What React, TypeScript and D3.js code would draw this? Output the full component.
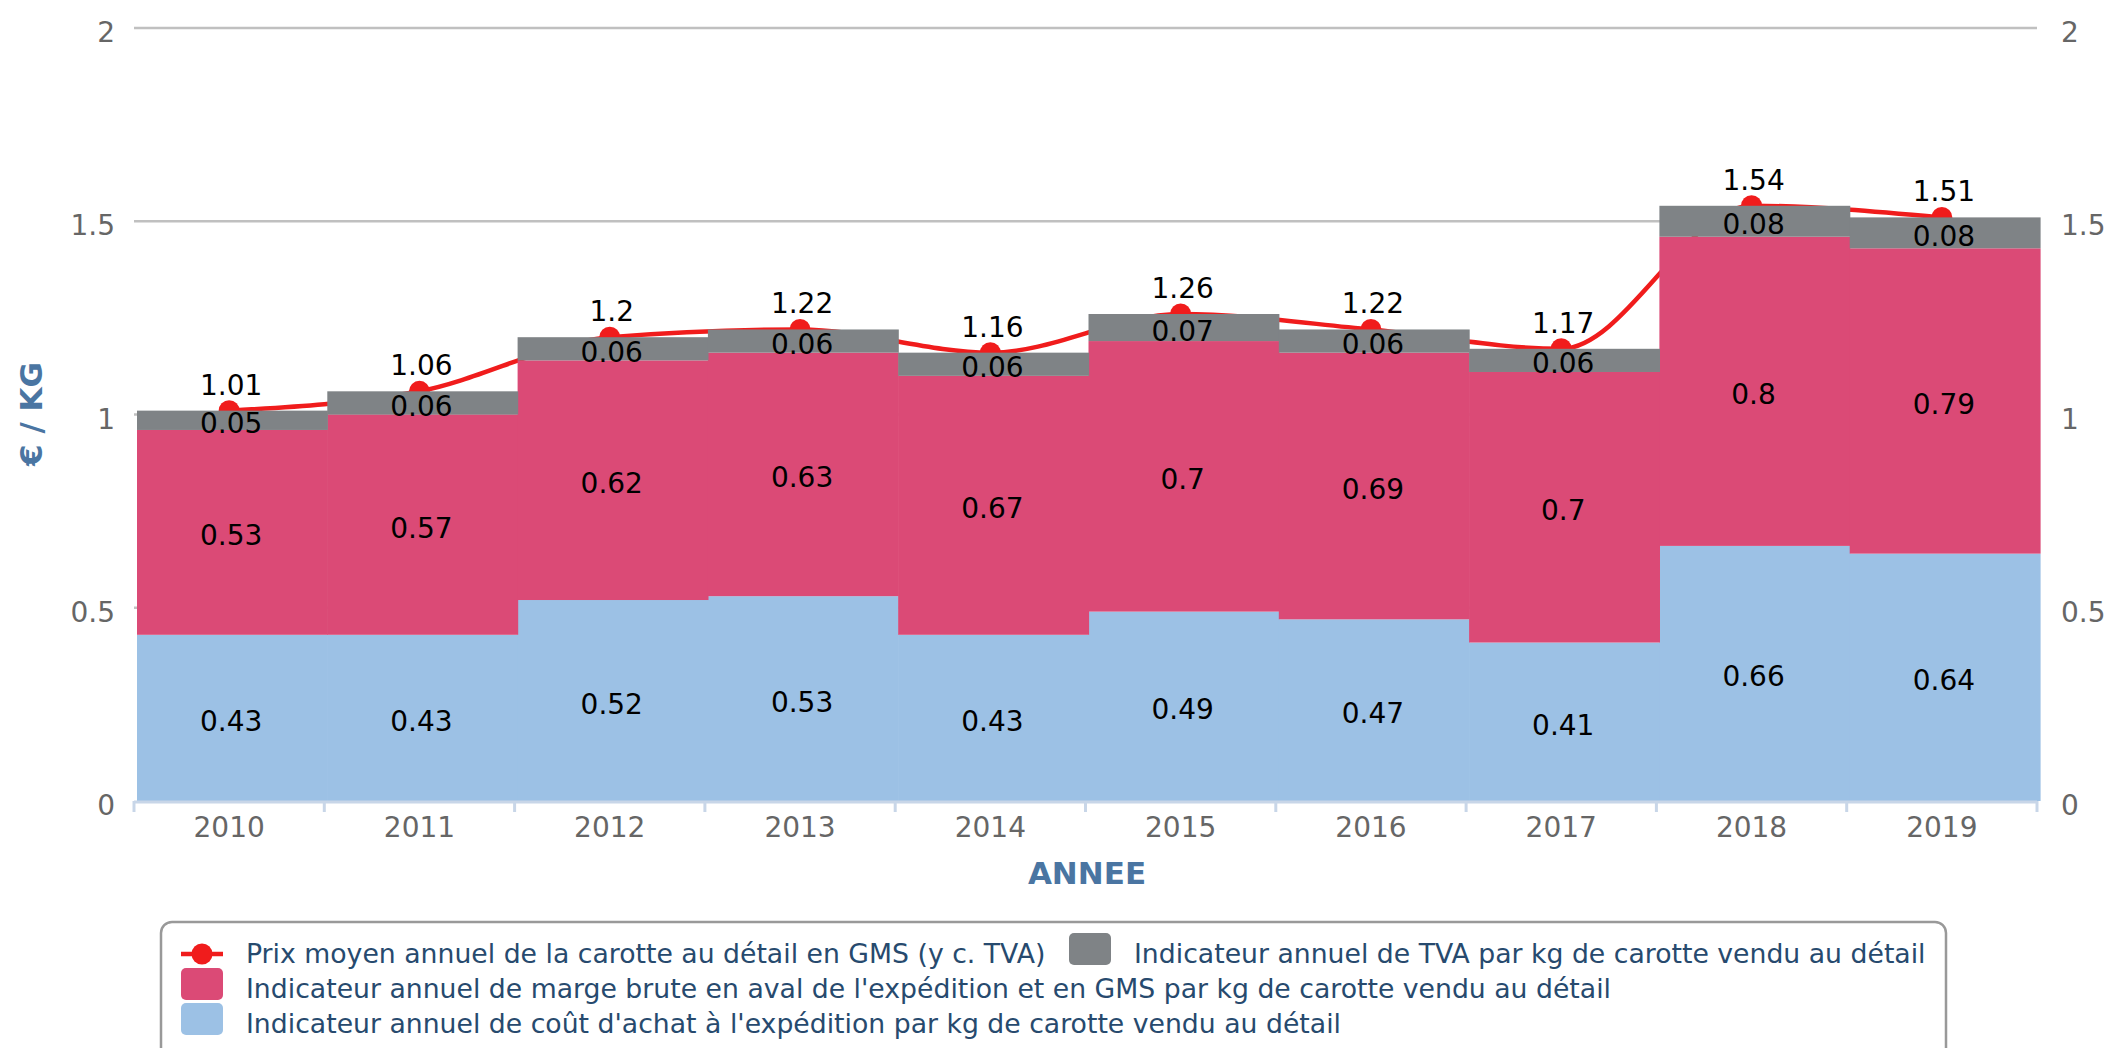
import React, { useRef, useEffect } from 'react';
import * as d3 from 'd3';

const annees = ['2010', '2011', '2012', '2013', '2014', '2015', '2016', '2017', '2018', '2019'];
const coutAchat = [0.43, 0.43, 0.52, 0.53, 0.43, 0.49, 0.47, 0.41, 0.66, 0.64];
const margeBrute = [0.53, 0.57, 0.62, 0.63, 0.67, 0.7, 0.69, 0.7, 0.8, 0.79];
const tva = [0.05, 0.06, 0.06, 0.06, 0.06, 0.07, 0.06, 0.06, 0.08, 0.08];
const prixMoyen = [1.01, 1.06, 1.2, 1.22, 1.16, 1.26, 1.22, 1.17, 1.54, 1.51];
const yTicks = [0, 0.5, 1, 1.5, 2];

const labelPrix = 'Prix moyen annuel de la carotte au détail en GMS (y c. TVA)';
const labelTva = 'Indicateur annuel de TVA par kg de carotte vendu au détail';
const labelMarge = "Indicateur annuel de marge brute en aval de l'expédition et en GMS par kg de carotte vendu au détail";
const labelCout = "Indicateur annuel de coût d'achat à l'expédition par kg de carotte vendu au détail";

const W = 2109;
const H = 1048;
const FONT = '"DejaVu Sans", Verdana, sans-serif';
const colors = { cout: '#9cc1e5', marge: '#db4a76', tva: '#7f8386', prix: '#f01c1c' };

const App = () => {
  const svgRef = useRef();

  useEffect(() => {
    const svg = d3.select(svgRef.current);
    svg.selectAll('*').remove();

    const x = d3.scaleBand().domain(annees).range([134, 2037]).padding(0);
    const y = d3.scaleLinear().domain([0, 2]).range([801, 28]);

    const rows = annees.map((a, i) => ({ annee: a, cout: coutAchat[i], marge: margeBrute[i], tva: tva[i] }));
    const stack = d3.stack().keys(['cout', 'marge', 'tva'])(rows);

    // grid
    svg.append('g')
      .selectAll('line')
      .data(yTicks.filter(t => t > 0))
      .enter()
      .append('line')
      .attr('x1', 134)
      .attr('x2', 2037)
      .attr('y1', d => y(d))
      .attr('y2', d => y(d))
      .attr('stroke', '#c0c0c0')
      .attr('stroke-width', 2.5);

    // spline (drawn behind bars)
    const line = d3.line()
      .x((d, i) => x(annees[i]) + x.bandwidth() / 2)
      .y(d => y(d))
      .curve(d3.curveMonotoneX);

    svg.append('path')
      .datum(prixMoyen)
      .attr('d', line)
      .attr('fill', 'none')
      .attr('stroke', colors.prix)
      .attr('stroke-width', 4.5);

    svg.append('g')
      .selectAll('circle')
      .data(prixMoyen)
      .enter()
      .append('circle')
      .attr('cx', (d, i) => x(annees[i]) + x.bandwidth() / 2)
      .attr('cy', d => y(d))
      .attr('r', 10.5)
      .attr('fill', colors.prix);

    // stacked bars
    const layer = svg.append('g')
      .selectAll('g')
      .data(stack)
      .enter()
      .append('g')
      .attr('fill', d => colors[d.key]);

    layer.selectAll('rect')
      .data(d => d)
      .enter()
      .append('rect')
      .attr('x', d => x(d.data.annee) + 3)
      .attr('width', x.bandwidth() + 0.6)
      .attr('y', d => y(d[1]))
      .attr('height', d => y(d[0]) - y(d[1]));

    // x axis
    const xa = svg.append('g');
    xa.append('line')
      .attr('x1', 134).attr('x2', 2037)
      .attr('y1', 802).attr('y2', 802)
      .attr('stroke', '#c8d6e8').attr('stroke-width', 3);
    xa.selectAll('.tick')
      .data(d3.range(annees.length + 1))
      .enter()
      .append('line')
      .attr('x1', i => 134 + i * x.step())
      .attr('x2', i => 134 + i * x.step())
      .attr('y1', 801).attr('y2', 812)
      .attr('stroke', '#c8d6e8').attr('stroke-width', 3);
    xa.selectAll('text')
      .data(annees)
      .enter()
      .append('text')
      .attr('x', d => x(d) + x.bandwidth() / 2)
      .attr('y', 837)
      .attr('text-anchor', 'middle')
      .attr('font-family', FONT)
      .attr('font-size', 28)
      .attr('fill', '#666666')
      .text(d => d);

    // y axes (left + right)
    svg.append('g')
      .selectAll('text')
      .data(yTicks)
      .enter()
      .append('text')
      .attr('x', 115)
      .attr('y', d => y(d) + 14)
      .attr('text-anchor', 'end')
      .attr('font-family', FONT)
      .attr('font-size', 28)
      .attr('fill', '#666666')
      .text(d => d);

    svg.append('g')
      .selectAll('text')
      .data(yTicks)
      .enter()
      .append('text')
      .attr('x', 2061)
      .attr('y', d => y(d) + 14)
      .attr('text-anchor', 'start')
      .attr('font-family', FONT)
      .attr('font-size', 28)
      .attr('fill', '#666666')
      .text(d => d);

    // axis titles
    svg.append('text')
      .attr('transform', 'translate(42,414) rotate(-90)')
      .attr('text-anchor', 'middle')
      .attr('font-family', FONT)
      .attr('font-size', 31)
      .attr('font-weight', 'bold')
      .attr('fill', '#4a75a2')
      .text('€ / KG');

    svg.append('text')
      .attr('x', 1087)
      .attr('y', 884)
      .attr('text-anchor', 'middle')
      .attr('font-family', FONT)
      .attr('font-size', 31)
      .attr('font-weight', 'bold')
      .attr('fill', '#4a75a2')
      .text('ANNEE');

    // bar data labels
    layer.selectAll('text')
      .data(d => d)
      .enter()
      .append('text')
      .attr('x', d => x(d.data.annee) + x.bandwidth() / 2 + 2)
      .attr('y', d => y((d[0] + d[1]) / 2) + 13)
      .attr('text-anchor', 'middle')
      .attr('font-family', FONT)
      .attr('font-size', 28)
      .attr('fill', '#000')
      .text(d => String(+(d[1] - d[0]).toFixed(2)));

    // line data labels
    svg.append('g')
      .selectAll('text')
      .data(prixMoyen)
      .enter()
      .append('text')
      .attr('x', (d, i) => x(annees[i]) + x.bandwidth() / 2 + 2)
      .attr('y', d => y(d) - 16)
      .attr('text-anchor', 'middle')
      .attr('font-family', FONT)
      .attr('font-size', 28)
      .attr('fill', '#000')
      .text(d => String(d));

    // legend
    const lg = svg.append('g');
    lg.append('rect')
      .attr('x', 161).attr('y', 922)
      .attr('width', 1785).attr('height', 150)
      .attr('rx', 11)
      .attr('fill', '#fff')
      .attr('stroke', '#999999')
      .attr('stroke-width', 2.5);

    const items = [
      { label: labelPrix, color: colors.prix, type: 'line', sx: 181, ty: 963 },
      { label: labelTva, color: colors.tva, type: 'rect', sx: 1069, ty: 963 },
      { label: labelMarge, color: colors.marge, type: 'rect', sx: 181, ty: 998 },
      { label: labelCout, color: colors.cout, type: 'rect', sx: 181, ty: 1033 },
    ];

    const it = lg.selectAll('.item')
      .data(items)
      .enter()
      .append('g');

    it.filter(d => d.type === 'rect')
      .append('rect')
      .attr('x', d => d.sx)
      .attr('y', d => d.ty - 30)
      .attr('width', 42)
      .attr('height', 32)
      .attr('rx', 5)
      .attr('fill', d => d.color);

    const ln = it.filter(d => d.type === 'line');
    ln.append('line')
      .attr('x1', d => d.sx).attr('x2', d => d.sx + 42)
      .attr('y1', d => d.ty - 9).attr('y2', d => d.ty - 9)
      .attr('stroke', d => d.color)
      .attr('stroke-width', 4.5);
    ln.append('circle')
      .attr('cx', d => d.sx + 21)
      .attr('cy', d => d.ty - 9)
      .attr('r', 10.5)
      .attr('fill', d => d.color);

    it.append('text')
      .attr('x', d => d.sx + 65)
      .attr('y', d => d.ty)
      .attr('font-family', FONT)
      .attr('font-size', 26.7)
      .attr('fill', '#274a6e')
      .text(d => d.label);
  }, []);

  return (
    <div style={{ position: 'absolute', left: 0, top: 0 }}>
      <svg ref={svgRef} width={W} height={H} style={{ display: 'block' }}></svg>
    </div>
  );
};

export default App;
